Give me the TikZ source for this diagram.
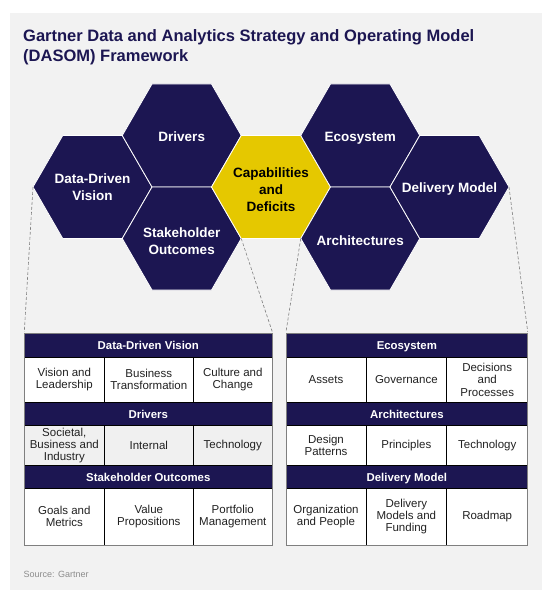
\documentclass[tikz,border=0pt]{standalone}
\usepackage{fontspec}
\setmainfont{Liberation Sans}
\usetikzlibrary{shapes.geometric}
\definecolor{navy}{HTML}{1C1652}
\definecolor{gold}{HTML}{E5C800}
\definecolor{bgc}{HTML}{F2F2F2}
\definecolor{rowgray}{HTML}{F0F0F0}
\definecolor{bordergray}{HTML}{7F7F7F}
\definecolor{srcgray}{HTML}{8C8C8C}
\definecolor{celltext}{HTML}{222222}
\begin{document}
\begin{tikzpicture}[x=1pt,y=-1pt,
  hex/.style={regular polygon, regular polygon sides=6, minimum size=119pt,
    inner sep=0pt, outer sep=0pt, fill=navy, draw=white, line width=0.8pt},
  hexgold/.style={hex, fill=gold},
  hexlabel/.style={inner sep=0pt, text=white, align=center,
    font=\bfseries\fontsize{13.5}{16.8}\selectfont},
  hexlabelgold/.style={hexlabel, text=black},
  callout/.style={draw=bordergray, dash pattern=on 3pt off 2pt, line width=0.6pt},
  cell/.style={rectangle, draw=black, line width=0.6pt, fill=white, inner sep=1pt,
    outer sep=0pt, align=center, text=celltext, font=\fontsize{11.5}{12.3}\selectfont},
  hdr/.style={cell, fill=navy, text=white, text height=10.6pt, text depth=1.6pt,
    font=\bfseries\fontsize{11.4}{13}\selectfont},
  graycell/.style={cell, fill=rowgray},
  tframe/.style={draw=bordergray, line width=1pt}
]
\useasboundingbox (0,0) rectangle (552,600);
\fill[white] (0,0) rectangle (552,600);
\fill[bgc] (10,12.5) rectangle (541.5,590);

% title
\node[anchor=base west, inner sep=0pt, text=navy, font=\bfseries\fontsize{16.5}{20}\selectfont] (title1) at (23,41) {Gartner Data and Analytics Strategy and Operating Model};
\node[anchor=base west, inner sep=0pt, text=navy, font=\bfseries\fontsize{16.5}{20}\selectfont] (title2) at (23,61) {(DASOM) Framework};

% hexagons
\node[hex] (ddv) at (92.5,187) {};
\node[hex] (drv) at (181.75,135.5) {};
\node[hex] (so) at (181.75,238.5) {};
\node[hexgold] (cap) at (271,187) {};
\node[hex] (eco) at (360.25,135.5) {};
\node[hex] (arch) at (360.25,238.5) {};
\node[hex] (dm) at (449.5,187) {};
\node[hexlabel] (ddvL) at ([yshift=-0.5pt]ddv.center) {Data-Driven\\Vision};
\node[hexlabel] (drvL) at ([yshift=-1pt]drv.center) {Drivers};
\node[hexlabel] (soL) at ([yshift=-3pt]so.center) {Stakeholder\\Outcomes};
\node[hexlabelgold] (capL) at ([yshift=-2.5pt]cap.center) {Capabilities\\and\\Deficits};
\node[hexlabel] (ecoL) at ([yshift=-3pt]eco.center) {Ecosystem};
\node[hexlabel] (archL) at ([yshift=-2.5pt]arch.center) {Architectures};
\node[hexlabel] (dmL) at ([yshift=-2pt]dm.center) {Delivery Model};

% left table
\node[hdr, minimum width=248pt, minimum height=23.7pt] (hL1) at (148.3,345.15) {Data-Driven Vision};
\node[cell, minimum width=80pt, minimum height=45.3pt] (L11) at (64.3,379.65) {Vision and\\Leadership};
\node[cell, minimum width=89pt, minimum height=45.3pt] (L12) at (148.8,379.65) {Business\\Transformation};
\node[cell, minimum width=79pt, minimum height=45.3pt] (L13) at (232.8,379.65) {Culture and\\Change};
\node[hdr, minimum width=248pt, minimum height=22.7pt] (hL2) at (148.3,413.65) {Drivers};
\node[graycell, minimum width=80pt, minimum height=40.7pt] (L21) at (64.3,445.35) {Societal,\\Business and\\Industry};
\node[graycell, minimum width=89pt, minimum height=40.7pt] (L22) at (148.8,445.35) {Internal};
\node[graycell, minimum width=79pt, minimum height=40.7pt] (L23) at (232.8,445.35) {Technology};
\node[hdr, minimum width=248pt, minimum height=22.6pt] (hL3) at (148.3,477) {Stakeholder Outcomes};
\node[cell, minimum width=80pt, minimum height=56.7pt] (L31) at (64.3,516.65) {Goals and\\Metrics};
\node[cell, minimum width=89pt, minimum height=56.7pt] (L32) at (148.8,516.65) {Value\\Propositions};
\node[cell, minimum width=79pt, minimum height=56.7pt] (L33) at (232.8,516.65) {Portfolio\\Management};
\draw[tframe] (hL1.north west) rectangle (L33.south east);

% right table
\node[hdr, minimum width=241.7pt, minimum height=23.7pt] (hR1) at (406.85,345.15) {Ecosystem};
\node[cell, minimum width=80pt, minimum height=45.3pt] (R11) at (326,379.65) {Assets};
\node[cell, minimum width=80.7pt, minimum height=45.3pt] (R12) at (406.35,379.65) {Governance};
\node[cell, minimum width=81pt, minimum height=45.3pt] (R13) at (487.2,379.65) {Decisions\\and\\Processes};
\node[hdr, minimum width=241.7pt, minimum height=22.7pt] (hR2) at (406.85,413.65) {Architectures};
\node[cell, minimum width=80pt, minimum height=40.7pt] (R21) at (326,445.35) {Design\\Patterns};
\node[cell, minimum width=80.7pt, minimum height=40.7pt] (R22) at (406.35,445.35) {Principles};
\node[cell, minimum width=81pt, minimum height=40.7pt] (R23) at (487.2,445.35) {Technology};
\node[hdr, minimum width=241.7pt, minimum height=22.6pt] (hR3) at (406.85,477) {Delivery Model};
\node[cell, minimum width=80pt, minimum height=56.7pt] (R31) at (326,516.65) {Organization\\and People};
\node[cell, minimum width=80.7pt, minimum height=56.7pt] (R32) at (406.35,516.65) {Delivery\\Models and\\Funding};
\node[cell, minimum width=81pt, minimum height=56.7pt] (R33) at (487.2,516.65) {Roadmap};
\draw[tframe] (hR1.north west) rectangle (R33.south east);

% callout lines
\draw[callout] (ddv.180) -- ([yshift=1.5pt]hL1.north west);
\draw[callout] (so.0) -- ([yshift=1.5pt]hL1.north east);
\draw[callout] (arch.180) -- ([yshift=1.5pt]hR1.north west);
\draw[callout] (dm.0) -- ([yshift=1.5pt]hR1.north east);

% source
\node[anchor=base west, inner sep=0pt, text=srcgray, font=\fontsize{9}{11}\selectfont] (src) at (23.5,577) {Source: Gartner};
\end{tikzpicture}
\end{document}
